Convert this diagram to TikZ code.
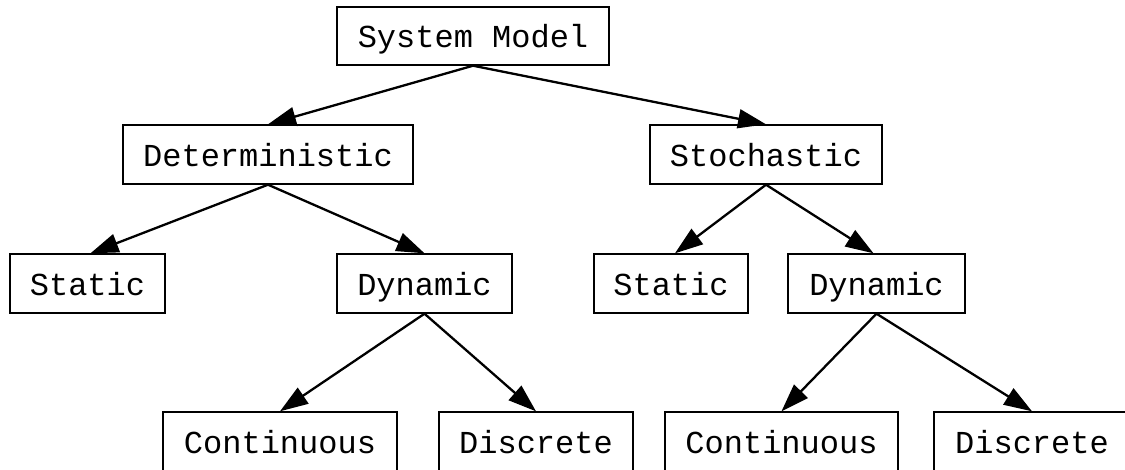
\documentclass[tikz,border=0pt]{standalone}
\usepackage{fontspec}
\setmonofont{Liberation Mono}
\usetikzlibrary{arrows.meta}
\begin{document}
\begin{tikzpicture}[x=1pt,y=-1pt,
  box/.style={draw=black, line width=1.4pt, fill=white, inner sep=0pt,
    minimum height=59pt, text height=26pt, text depth=2pt,
    font=\ttfamily\fontsize{32}{36}\selectfont},
  link/.style={line width=2.3pt, -{Triangle[length=28pt,width=19pt]}}]
\useasboundingbox (0,0) rectangle (1125,470);
% root
\node[box, minimum width=272pt, minimum height=58pt] (sys) at (473,36) {System Model};
% second level
\node[box, minimum width=290pt] (det) at (268,154.5) {Deterministic};
\node[box, minimum width=232pt] (sto) at (766,154.5) {Stochastic};
% third level
\node[box, minimum width=155pt] (statL) at (87.5,283.5) {Static};
\node[box, minimum width=175pt] (dynL) at (424.5,283.5) {Dynamic};
\node[box, minimum width=154pt] (statR) at (671,283.5) {Static};
\node[box, minimum width=177pt] (dynR) at (876.5,283.5) {Dynamic};
% leaves
\node[box, minimum width=234pt] (contL) at (280,441.5) {Continuous};
\node[box, minimum width=194pt] (discL) at (536,441.5) {Discrete};
\node[box, minimum width=233pt] (contR) at (781.5,441.5) {Continuous};
\node[box, minimum width=196pt] (discR) at (1032,441.5) {Discrete};
% connectors
\draw[link] (sys.south) -- (det.north);
\draw[link] (sys.south) -- (sto.north);
\draw[link] (det.south) -- ([xshift=3pt]statL.north);
\draw[link] (det.south) -- (dynL.north);
\draw[link] (sto.south) -- ([xshift=4pt]statR.north);
\draw[link] (sto.south) -- ([xshift=-3pt]dynR.north);
\draw[link] (dynL.south) -- (contL.north);
\draw[link] (dynL.south) -- (discL.north);
\draw[link] (dynR.south) -- (contR.north);
\draw[link] (dynR.south) -- (discR.north);
\end{tikzpicture}
\end{document}
